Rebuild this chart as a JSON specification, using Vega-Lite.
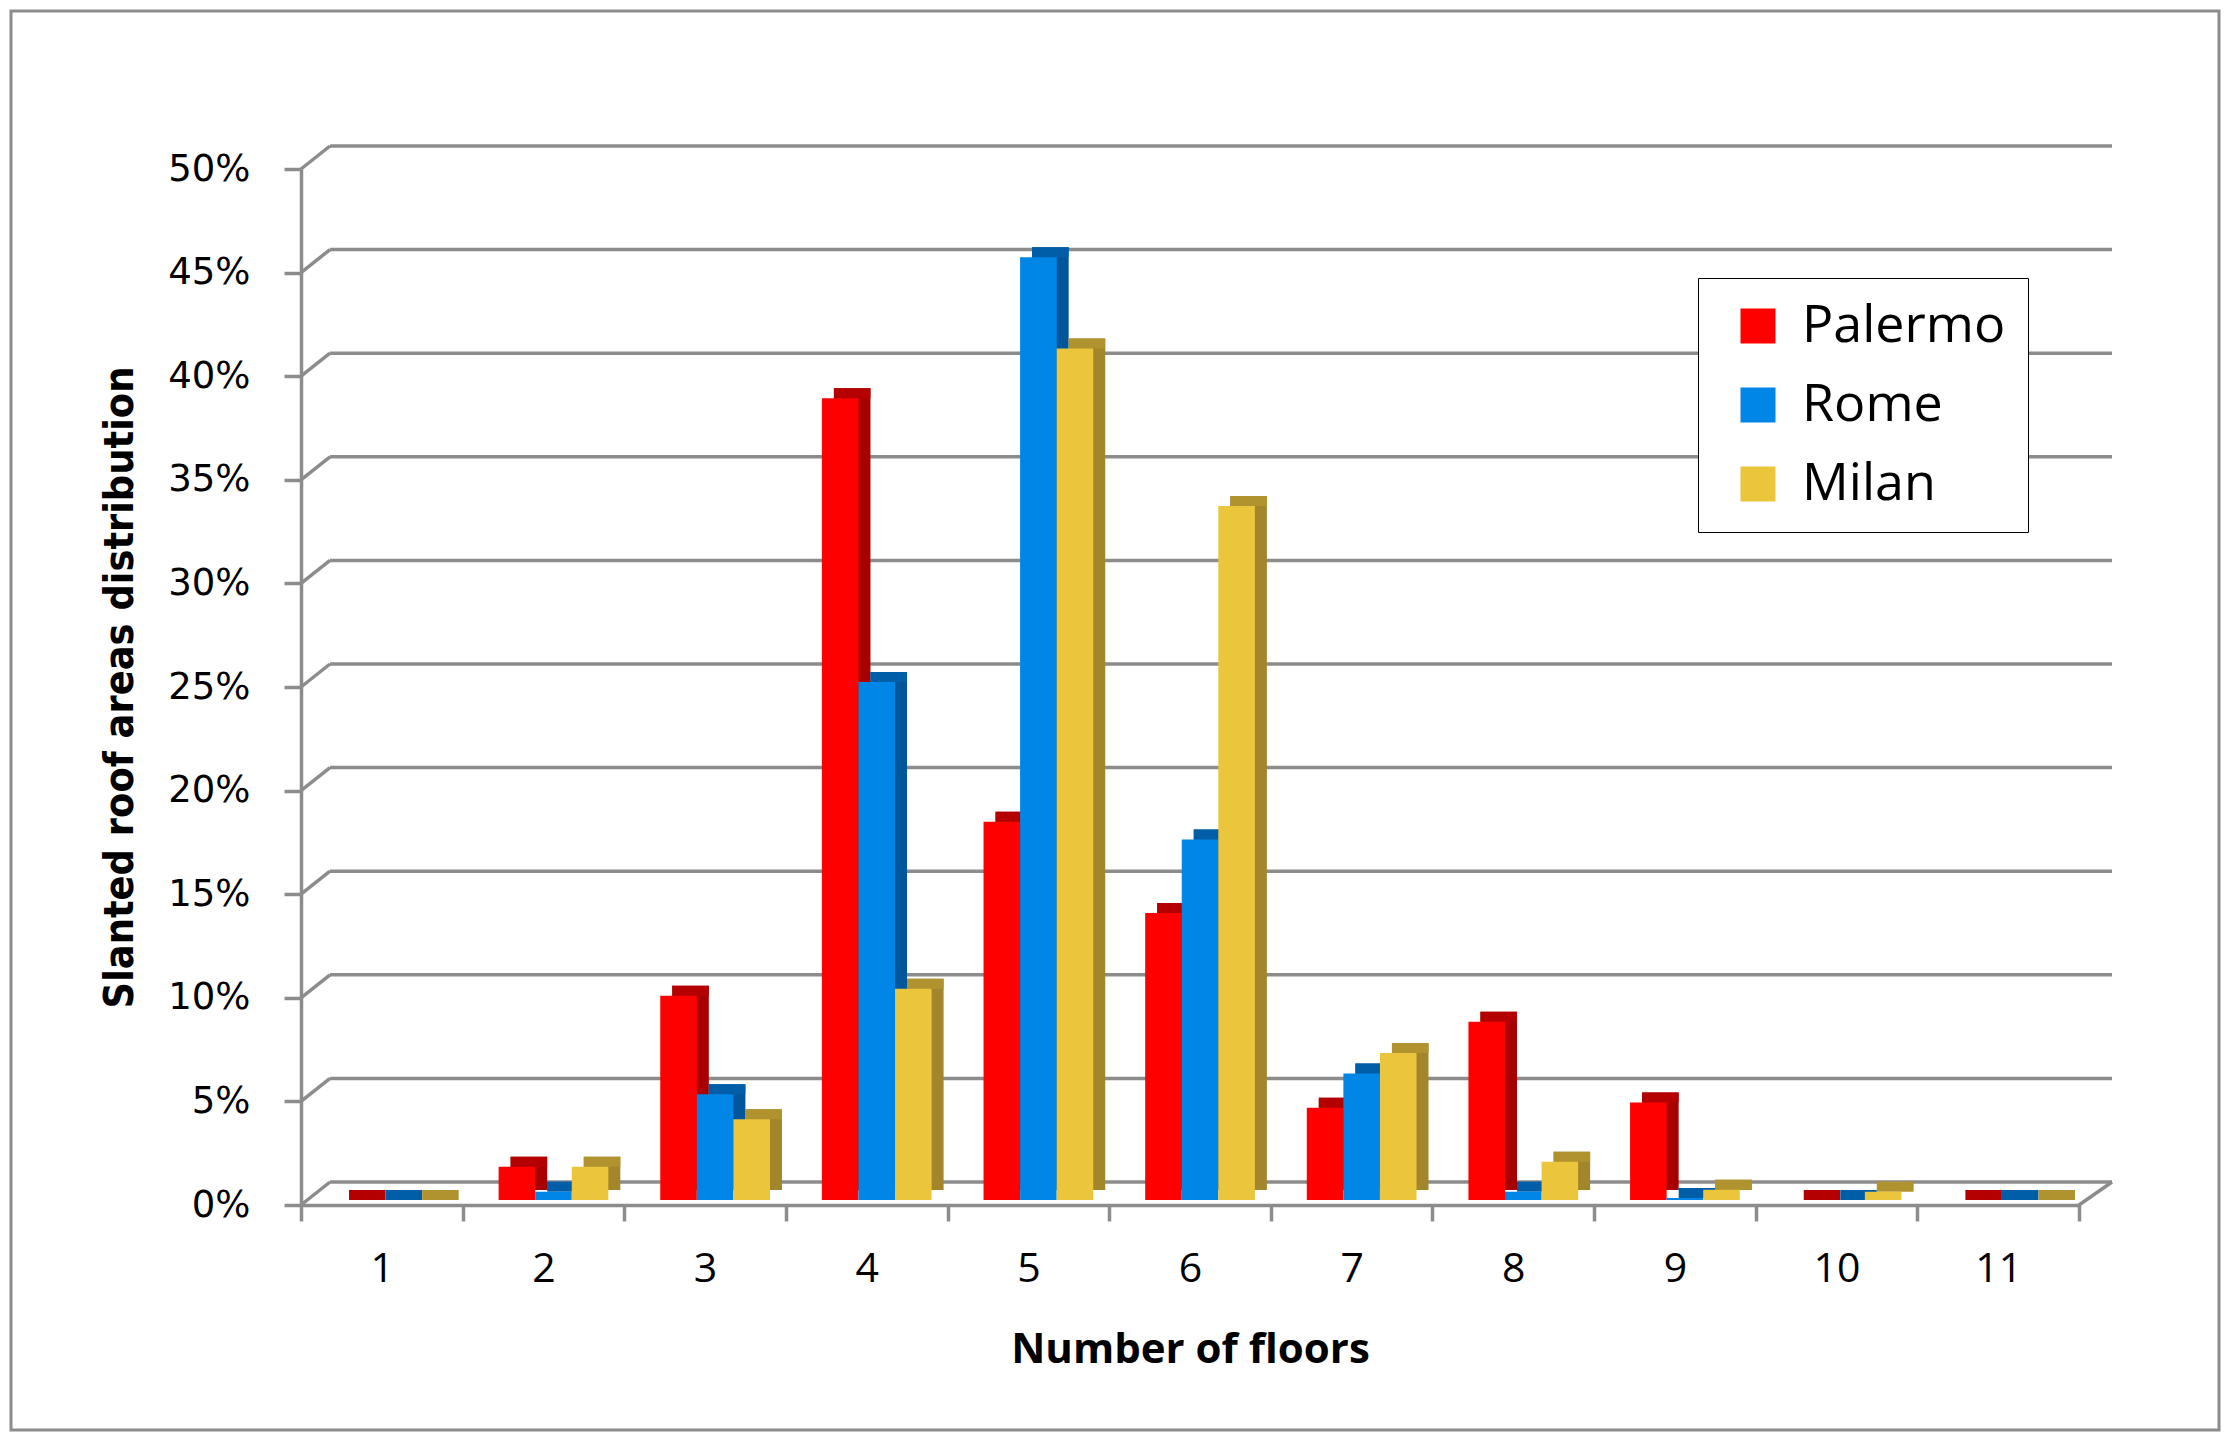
{
  "$schema": "https://vega.github.io/schema/vega-lite/v6.json",
  "autosize": "none",
  "width": 2208,
  "height": 1419,
  "padding": {"left": 11, "top": 11, "right": 11, "bottom": 11},
  "background": "white",
  "config": {
    "view": {"stroke": "#8c8c8c", "strokeWidth": 3},
    "axis": {"domainColor": "#8c8c8c", "domainWidth": 3.5, "tickColor": "#8c8c8c", "tickWidth": 3.5, "grid": false, "labelColor": "black", "titleColor": "black"}
  },
  "datasets": {
    "grid": [{"v": 0}, {"v": 0.05}, {"v": 0.1}, {"v": 0.15}, {"v": 0.2}, {"v": 0.25}, {"v": 0.3}, {"v": 0.35}, {"v": 0.4}, {"v": 0.45}, {"v": 0.5}],
    "bars": [
      {"floor": 1, "city": "Palermo", "value": 0.0}, {"floor": 1, "city": "Rome", "value": 0.0}, {"floor": 1, "city": "Milan", "value": 0.0},
      {"floor": 2, "city": "Palermo", "value": 0.016}, {"floor": 2, "city": "Rome", "value": 0.004}, {"floor": 2, "city": "Milan", "value": 0.016},
      {"floor": 3, "city": "Palermo", "value": 0.0986}, {"floor": 3, "city": "Rome", "value": 0.051}, {"floor": 3, "city": "Milan", "value": 0.039},
      {"floor": 4, "city": "Palermo", "value": 0.387}, {"floor": 4, "city": "Rome", "value": 0.25}, {"floor": 4, "city": "Milan", "value": 0.102},
      {"floor": 5, "city": "Palermo", "value": 0.1825}, {"floor": 5, "city": "Rome", "value": 0.455}, {"floor": 5, "city": "Milan", "value": 0.411},
      {"floor": 6, "city": "Palermo", "value": 0.1385}, {"floor": 6, "city": "Rome", "value": 0.174}, {"floor": 6, "city": "Milan", "value": 0.335},
      {"floor": 7, "city": "Palermo", "value": 0.0445}, {"floor": 7, "city": "Rome", "value": 0.061}, {"floor": 7, "city": "Milan", "value": 0.071},
      {"floor": 8, "city": "Palermo", "value": 0.086}, {"floor": 8, "city": "Rome", "value": 0.004}, {"floor": 8, "city": "Milan", "value": 0.0185},
      {"floor": 9, "city": "Palermo", "value": 0.047}, {"floor": 9, "city": "Rome", "value": 0.001}, {"floor": 9, "city": "Milan", "value": 0.005},
      {"floor": 10, "city": "Palermo", "value": 0.0}, {"floor": 10, "city": "Rome", "value": 0.0}, {"floor": 10, "city": "Milan", "value": 0.004},
      {"floor": 11, "city": "Palermo", "value": 0.0}, {"floor": 11, "city": "Rome", "value": 0.0}, {"floor": 11, "city": "Milan", "value": 0.0}
    ]
  },
  "resolve": {"scale": {"x": "independent", "y": "independent", "xOffset": "independent", "color": "independent"}, "legend": {"color": "independent"}},
  "layer": [
    {
      "data": {"name": "grid"},
      "mark": {"type": "rule", "color": "#8c8c8c", "strokeWidth": 3.5, "xOffset": 29, "x2Offset": 33, "yOffset": -23, "y2Offset": -23},
      "encoding": {
        "x": {"datum": 0, "type": "quantitative", "scale": {"domain": [0, 1], "range": [290, 2068], "nice": false, "zero": false}, "axis": null},
        "x2": {"datum": 1},
        "y": {"field": "v", "type": "quantitative", "scale": {"domain": [0, 0.5], "range": [1194, 158], "nice": false}, "axis": null},
        "y2": {"field": "v"}
      }
    },
    {
      "data": {"name": "grid"},
      "mark": {"type": "rule", "color": "#8c8c8c", "strokeWidth": 3.5, "x2Offset": 29, "y2Offset": -23},
      "encoding": {
        "x": {"datum": 0, "type": "quantitative", "scale": {"domain": [0, 1], "range": [290, 2068], "nice": false, "zero": false}, "axis": null},
        "x2": {"datum": 0},
        "y": {"field": "v", "type": "quantitative", "scale": {"domain": [0, 0.5], "range": [1194, 158], "nice": false}, "axis": null},
        "y2": {"field": "v"}
      }
    },
    {
      "data": {"values": [{"v": 0}]},
      "mark": {"type": "rule", "color": "#8c8c8c", "strokeWidth": 3.5, "x2Offset": 33, "y2Offset": -23},
      "encoding": {
        "x": {"datum": 1, "type": "quantitative", "scale": {"domain": [0, 1], "range": [290, 2068], "nice": false, "zero": false}, "axis": null},
        "x2": {"datum": 1},
        "y": {"field": "v", "type": "quantitative", "scale": {"domain": [0, 0.5], "range": [1194, 158], "nice": false}, "axis": null},
        "y2": {"field": "v"}
      }
    },
    {
      "data": {"name": "bars"},
      "mark": {"type": "bar", "yOffset": -15},
      "encoding": {
        "x": {"field": "floor", "type": "ordinal", "scale": {"range": [290, 2068], "paddingInner": 0, "paddingOuter": 0}, "axis": null},
        "xOffset": {"field": "city", "type": "nominal", "scale": {"domain": ["Palermo", "Rome", "Milan"], "paddingInner": 0, "paddingOuter": 0.71, "align": 0.924}},
        "y": {"field": "value", "type": "quantitative", "scale": {"domain": [0, 0.5], "range": [1194, 158], "nice": false}, "axis": null},
        "color": {"field": "city", "type": "nominal", "scale": {"domain": ["Palermo", "Rome", "Milan"], "range": ["#a80000", "#00569a", "#a3862b"]}, "legend": null}
      }
    },
    {
      "data": {"name": "bars"},
      "mark": {"type": "tick", "orient": "horizontal", "thickness": 10, "size": 36.5, "yOffset": -10, "opacity": 1},
      "encoding": {
        "x": {"field": "floor", "type": "ordinal", "scale": {"range": [290, 2068], "paddingInner": 0, "paddingOuter": 0}, "axis": null},
        "xOffset": {"field": "city", "type": "nominal", "scale": {"domain": ["Palermo", "Rome", "Milan"], "paddingInner": 0, "paddingOuter": 0.71, "align": 0.924}},
        "y": {"field": "value", "type": "quantitative", "scale": {"domain": [0, 0.5], "range": [1194, 158], "nice": false}, "axis": null},
        "color": {"field": "city", "type": "nominal", "scale": {"domain": ["Palermo", "Rome", "Milan"], "range": ["#b40000", "#005ea8", "#b0922f"]}, "legend": null}
      }
    },
    {
      "data": {"name": "bars"},
      "mark": {"type": "bar", "yOffset": -5},
      "encoding": {
        "x": {"field": "floor", "type": "ordinal", "scale": {"range": [290, 2068], "paddingInner": 0, "paddingOuter": 0},
          "axis": {"orient": "bottom", "offset": -225, "title": "Number of floors", "labelAngle": 0, "tickBand": "extent", "tickSize": 16,
            "labelFont": "Open Sans", "labelFontSize": 41, "labelPadding": 28, "titleFont": "Open Sans", "titleFontWeight": "bold", "titleFontSize": 42, "titlePadding": 40}},
        "xOffset": {"field": "city", "type": "nominal", "scale": {"domain": ["Palermo", "Rome", "Milan"], "paddingInner": 0, "paddingOuter": 0.71, "align": 0.693}},
        "y": {"field": "value", "type": "quantitative", "scale": {"domain": [0, 0.5], "range": [1194, 158], "nice": false},
          "axis": {"orient": "left", "offset": -290, "title": "Slanted roof areas distribution", "format": ".0%", "values": [0, 0.05, 0.1, 0.15, 0.2, 0.25, 0.3, 0.35, 0.4, 0.45, 0.5],
            "tickSize": 17, "labelFont": "DejaVu Sans", "labelFontSize": 37, "labelPadding": 34,
            "titleFont": "Liberation Sans Narrow, DejaVu Sans Condensed", "titleFontWeight": "bold", "titleFontSize": 41, "titlePadding": 26}},
        "color": {"field": "city", "type": "nominal",
          "scale": {"domain": ["Palermo", "Rome", "Milan"], "range": ["#ff0000", "#0086e6", "#ebc63d"]},
          "legend": {"title": null, "orient": "none", "legendX": 1687, "legendY": 267, "strokeColor": "black", "fillColor": "white",
            "padding": 22, "symbolType": "square", "symbolSize": 1225, "symbolOffset": 12, "symbolStrokeWidth": 0, "labelOffset": 18, "labelLimit": 500,
            "labelFont": "Open Sans", "labelFontSize": 52, "labelColor": "black", "rowPadding": 27}}
      }
    }
  ]
}
